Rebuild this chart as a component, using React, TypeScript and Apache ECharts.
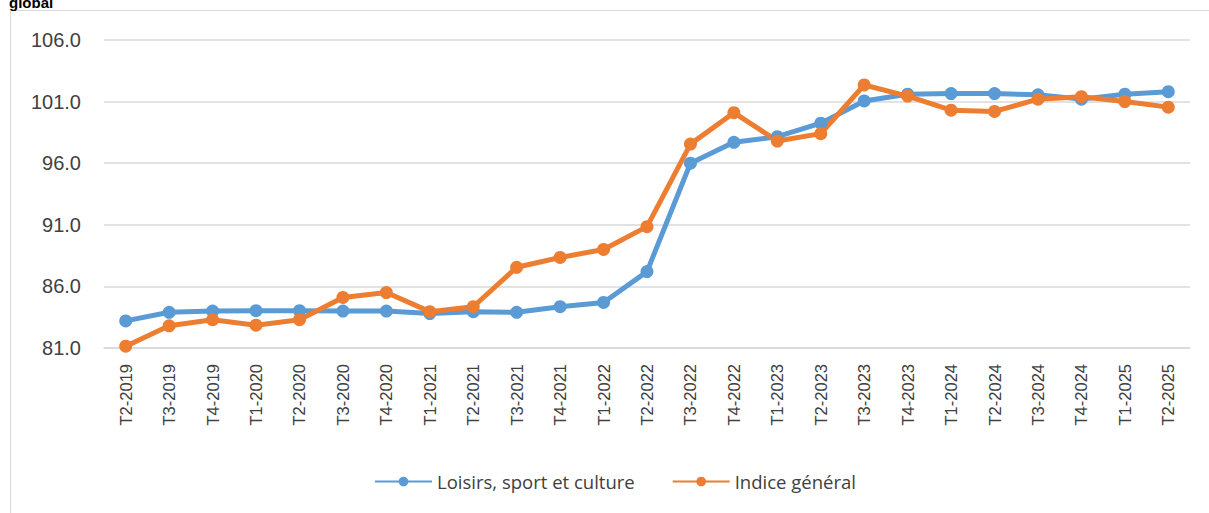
import React, { useEffect, useRef } from "react";
import * as echarts from "echarts";

const categories = [
  "T2-2019", "T3-2019", "T4-2019", "T1-2020", "T2-2020", "T3-2020", "T4-2020",
  "T1-2021", "T2-2021", "T3-2021", "T4-2021", "T1-2022", "T2-2022", "T3-2022",
  "T4-2022", "T1-2023", "T2-2023", "T3-2023", "T4-2023", "T1-2024", "T2-2024",
  "T3-2024", "T4-2024", "T1-2025", "T2-2025",
];

const loisirs = [
  83.2, 83.9, 84.0, 84.03, 84.03, 84.0, 84.0, 83.8, 83.95, 83.9, 84.35, 84.7,
  87.2, 96.0, 97.7, 98.15, 99.25, 101.05, 101.6, 101.65, 101.65, 101.55, 101.2,
  101.6, 101.8,
];

const indiceGeneral = [
  81.15, 82.8, 83.3, 82.85, 83.3, 85.1, 85.5, 83.95, 84.35, 87.55, 88.35, 89.0,
  90.85, 97.55, 100.1, 97.8, 98.4, 102.35, 101.45, 100.3, 100.2, 101.2, 101.4,
  101.0, 100.55,
];

const seriesNames = ["Loisirs, sport et culture", "Indice général"];
const yMin = 81;
const yMax = 106;
const yInterval = 5;

export default function App() {
  const ref = useRef<HTMLDivElement>(null);
  useEffect(() => {
    if (!ref.current) return;
    const chart = echarts.init(ref.current, null, { renderer: "svg" });
    chart.setOption({
      animation: false,
      backgroundColor: "#ffffff",
      graphic: [
        {
          type: "rect",
          shape: { x: 10.5, y: 10.5, width: 1210, height: 520 },
          style: { fill: "none", stroke: "#d9d9d9", lineWidth: 1 },
          silent: true,
        },
        {
          type: "text",
          left: 9,
          top: -5,
          style: {
            text: "global",
            font: "bold 15px 'Liberation Sans', Arial, sans-serif",
            fill: "#000000",
          },
        },
      ],
      grid: { left: 104, right: 19, top: 40, bottom: 165, containLabel: false },
      legend: {
        bottom: 17,
        left: 369,
        itemWidth: 57,
        itemHeight: 12,
        itemGap: 37,
        textStyle: {
          color: "#404040",
          fontSize: 18.5,
          fontFamily: "'Open Sans', 'Noto Sans', sans-serif",
        },
        data: seriesNames,
      },
      xAxis: {
        type: "category",
        data: categories,
        boundaryGap: true,
        axisLine: { show: true, lineStyle: { color: "#d9d9d9", width: 1.5 } },
        axisTick: { show: false },
        axisLabel: {
          rotate: 90,
          interval: 0,
          margin: 16,
          color: "#404040",
          fontSize: 16.5,
          fontFamily: "'Liberation Sans', Arial, sans-serif",
        },
      },
      yAxis: {
        type: "value",
        min: yMin,
        max: yMax,
        interval: yInterval,
        axisLine: { show: false },
        axisTick: { show: false },
        splitLine: { lineStyle: { color: "#d9d9d9", width: 1.5 } },
        axisLabel: {
          margin: 23,
          color: "#404040",
          fontSize: 20,
          fontFamily: "'Liberation Sans', Arial, sans-serif",
          formatter: (v: number) => v.toFixed(1),
        },
      },
      series: [
        {
          name: seriesNames[0],
          type: "line",
          data: loisirs,
          symbol: "circle",
          symbolSize: 13,
          lineStyle: { width: 5, color: "#5B9BD5" },
          itemStyle: { color: "#5B9BD5" },
        },
        {
          name: seriesNames[1],
          type: "line",
          data: indiceGeneral,
          symbol: "circle",
          symbolSize: 13,
          lineStyle: { width: 5, color: "#ED7D31" },
          itemStyle: { color: "#ED7D31" },
        },
      ],
    });
    return () => chart.dispose();
  }, []);
  return (
    <div
      ref={ref}
      style={{ position: "absolute", left: 0, top: 0, width: 1209, height: 513 }}
    />
  );
}
